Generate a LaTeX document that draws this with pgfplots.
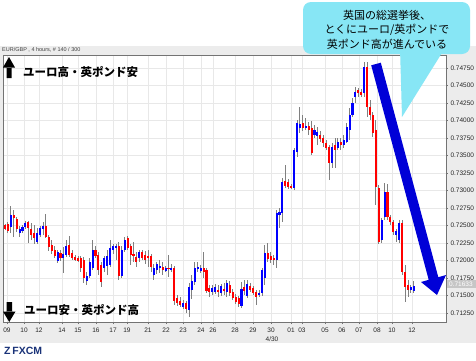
\documentclass[border=0pt]{standalone}
\usepackage{pgfplots}
\pgfplotsset{compat=1.18}
\usepackage{pgfplotstable}
\usepackage{fontspec}
\setmainfont{Liberation Sans}
\newfontfamily\jp{Noto Sans CJK JP}
\definecolor{upc}{RGB}{0,0,255}
\definecolor{dnc}{RGB}{255,0,0}
\definecolor{wick}{RGB}{128,128,128}
\definecolor{callout}{RGB}{135,230,245}
\definecolor{arrowblue}{RGB}{0,0,215}
\definecolor{fxblue}{RGB}{25,50,120}

\pgfplotstableread{
i o h l c
0 0.72507 0.72521 0.72436 0.72450
1 0.72521 0.72550 0.72393 0.72421
2 0.72479 0.72779 0.72393 0.72650
3 0.72650 0.72721 0.72336 0.72607
4 0.72593 0.72621 0.72407 0.72450
5 0.72393 0.72493 0.72336 0.72450
6 0.72421 0.72507 0.72393 0.72479
7 0.72479 0.72564 0.72450 0.72536
8 0.72550 0.72564 0.72250 0.72464
9 0.72450 0.72536 0.72293 0.72364
10 0.72393 0.72507 0.72236 0.72321
11 0.72264 0.72464 0.72236 0.72393
12 0.72364 0.72493 0.72336 0.72464
13 0.72450 0.72550 0.72364 0.72493
14 0.72493 0.72664 0.72321 0.72336
15 0.72336 0.72364 0.72136 0.72193
16 0.72221 0.72293 0.72093 0.72136
17 0.72150 0.72207 0.72036 0.72064
18 0.71993 0.72150 0.71964 0.72121
19 0.72107 0.72150 0.71993 0.72036
20 0.72036 0.72193 0.71821 0.72093
21 0.72079 0.72293 0.72050 0.72207
22 0.72221 0.72350 0.72050 0.72079
23 0.72107 0.72150 0.72007 0.72036
24 0.72050 0.72079 0.71993 0.72007
25 0.72036 0.72064 0.71979 0.71993
26 0.72036 0.72064 0.71836 0.71893
27 0.72007 0.72050 0.71679 0.71750
28 0.71707 0.71836 0.71650 0.71779
29 0.71779 0.72036 0.71750 0.71979
30 0.71893 0.72293 0.71864 0.72150
31 0.72150 0.72207 0.72036 0.72064
32 0.72079 0.72121 0.71793 0.71864
33 0.71936 0.71979 0.71621 0.71693
34 0.71893 0.72064 0.71836 0.72036
35 0.71921 0.72150 0.71793 0.72064
36 0.71936 0.72293 0.71907 0.72179
37 0.72150 0.72236 0.72093 0.72207
38 0.72179 0.72236 0.72007 0.72207
39 0.72207 0.72264 0.71721 0.71779
40 0.71779 0.72207 0.71750 0.72150
41 0.72150 0.72336 0.72121 0.72293
42 0.72321 0.72350 0.72150 0.72179
43 0.72207 0.72236 0.71936 0.72079
44 0.72093 0.72264 0.71979 0.72064
45 0.72050 0.72121 0.71907 0.71979
46 0.72036 0.72150 0.71979 0.72121
47 0.72121 0.72150 0.72007 0.72036
48 0.72079 0.72136 0.71950 0.72007
49 0.72064 0.72150 0.71907 0.72036
50 0.72064 0.72093 0.71836 0.71907
51 0.71793 0.71950 0.71721 0.71893
52 0.71864 0.71979 0.71807 0.71950
53 0.71893 0.72007 0.71821 0.71921
54 0.71907 0.71979 0.71793 0.71864
55 0.71850 0.71921 0.71836 0.71893
56 0.71893 0.72079 0.71764 0.71879
57 0.71864 0.71950 0.71836 0.71893
58 0.71893 0.71921 0.71364 0.71421
59 0.71464 0.71507 0.71350 0.71393
60 0.71421 0.71479 0.71336 0.71364
61 0.71336 0.71436 0.71307 0.71393
62 0.71393 0.71421 0.71250 0.71307
63 0.71293 0.71679 0.71193 0.71621
64 0.71579 0.71793 0.71450 0.71707
65 0.71693 0.71979 0.71650 0.71893
66 0.71893 0.71979 0.71836 0.71907
67 0.71850 0.71936 0.71821 0.71893
68 0.71893 0.72121 0.71750 0.71836
69 0.71864 0.71893 0.71536 0.71564
70 0.71607 0.71650 0.71479 0.71550
71 0.71550 0.71650 0.71507 0.71607
72 0.71550 0.71664 0.71521 0.71621
73 0.71579 0.71650 0.71479 0.71564
74 0.71536 0.71664 0.71493 0.71636
75 0.71593 0.71679 0.71507 0.71579
76 0.71550 0.71721 0.71479 0.71679
77 0.71650 0.71707 0.71493 0.71536
78 0.71550 0.71593 0.71436 0.71464
79 0.71479 0.71521 0.71379 0.71407
80 0.71464 0.71493 0.71336 0.71379
81 0.71350 0.71693 0.71321 0.71593
82 0.71621 0.71721 0.71507 0.71564
83 0.71493 0.71721 0.71464 0.71664
84 0.71636 0.71679 0.71550 0.71579
85 0.71607 0.71636 0.71507 0.71536
86 0.71550 0.71579 0.71364 0.71479
87 0.71507 0.71579 0.71479 0.71536
88 0.71536 0.71893 0.71493 0.71864
89 0.71750 0.72221 0.71650 0.72107
90 0.72107 0.72250 0.71979 0.72021
91 0.72064 0.72121 0.71964 0.72007
92 0.72036 0.72079 0.71936 0.72007
93 0.72007 0.72721 0.71893 0.72679
94 0.72650 0.72750 0.72464 0.72693
95 0.72679 0.73179 0.72550 0.73121
96 0.73136 0.73364 0.73036 0.73064
97 0.73121 0.73164 0.73021 0.73050
98 0.73064 0.73093 0.73021 0.73050
99 0.73036 0.73607 0.73007 0.73579
100 0.73550 0.74007 0.73479 0.73964
101 0.73893 0.74193 0.73821 0.73950
102 0.73964 0.74079 0.73850 0.73893
103 0.73893 0.74036 0.73864 0.73921
104 0.73921 0.73979 0.73793 0.73864
105 0.73893 0.73993 0.73507 0.73536
106 0.73793 0.73936 0.73750 0.73864
107 0.73779 0.73907 0.73650 0.73836
108 0.73793 0.73850 0.73693 0.73736
109 0.73750 0.73793 0.73621 0.73679
110 0.73679 0.73721 0.73579 0.73607
111 0.73621 0.73650 0.73150 0.73393
112 0.73393 0.73679 0.73321 0.73621
113 0.73650 0.73750 0.73321 0.73579
114 0.73607 0.73750 0.73579 0.73693
115 0.73693 0.73750 0.73579 0.73650
116 0.73650 0.73793 0.73607 0.73721
117 0.73693 0.73964 0.73679 0.73907
118 0.73864 0.74179 0.73721 0.74079
119 0.74079 0.74321 0.74050 0.74250
120 0.74336 0.74479 0.74250 0.74407
121 0.74436 0.74464 0.74336 0.74393
122 0.74407 0.74450 0.74336 0.74364
123 0.74393 0.74836 0.74336 0.74764
124 0.74764 0.74836 0.74050 0.74193
125 0.74193 0.74293 0.74007 0.74079
126 0.74079 0.74121 0.73764 0.73821
127 0.73864 0.74007 0.72793 0.73050
128 0.73036 0.73079 0.72236 0.72264
129 0.72293 0.72607 0.72250 0.72579
130 0.72621 0.73107 0.72579 0.72979
131 0.72979 0.73093 0.72579 0.72621
132 0.72621 0.72650 0.72507 0.72550
133 0.72550 0.72579 0.72364 0.72407
134 0.72364 0.72450 0.72264 0.72421
135 0.72293 0.72579 0.72250 0.72536
136 0.72536 0.72579 0.71793 0.71836
137 0.71836 0.71936 0.71407 0.71621
138 0.71650 0.71721 0.71479 0.71579
139 0.71579 0.71650 0.71536 0.71621
140 0.71564 0.71707 0.71536 0.71636
}\candles

\begin{document}
\begin{tikzpicture}[x=1pt,y=1pt]
\useasboundingbox (0,0) rectangle (476,360);
\fill[white] (0,0) rectangle (476,360);
\fill[gray!15] (0,17) rectangle (476,314);
\node[anchor=west, inner sep=0pt, font=\fontsize{5.5}{6}\selectfont, text=black!75] at (2,310.5) {EUR/GBP , 4 hours, \# 140 / 300};
\begin{axis}[
  at={(3pt,38pt)}, anchor=south west,
  scale only axis, width=443pt, height=267pt,
  xmin=-0.685, xmax=151.03, ymin=0.711214, ymax=0.749357,
  axis background/.style={fill=white},
  axis line style={black!55, line width=0.8pt},
  grid=major, grid style={gray!18, line width=0.8pt},
  xtick={0.68,6.51,11.64,19.52,25,31.16,36.99,41.78,48.97,55.14,60.96,67.12,71.23,78.77,84.93,91.1,97.95,101.71,109.59,115.41,121.23,127.4,132.53,139.38},
  xticklabels={09,10,12,14,15,16,17,19,21,22,23,24,26,28,29,30,01,03,05,06,07,08,10,12},
  ytick={0.7125,0.715,0.7175,0.72,0.7225,0.725,0.7275,0.73,0.7325,0.735,0.7375,0.74,0.7425,0.745,0.7475},
  yticklabel pos=right, ytick pos=right, xtick pos=bottom,
  /pgf/number format/assume math mode=true,
  yticklabel={\pgfmathprintnumber[fixed,fixed zerofill,precision=5]{\tick}},
  yticklabel style={font=\fontsize{6.5}{7}\selectfont, text=black!85, xshift=-1pt},
  xticklabel style={font=\fontsize{6.5}{7}\selectfont, text=black!85},
  tick style={black!55}, major tick length=2pt, tick align=outside,
]
\addplot[draw=none, forget plot, error bars/.cd, y dir=both, y explicit, error mark=none,
  error bar style={draw=wick, line width=0.9pt}]
  table[x=i, y expr={(\thisrow{h}+\thisrow{l})/2}, y error expr={(\thisrow{h}-\thisrow{l})/2}] {\candles};
\addplot[draw=none, forget plot, error bars/.cd, y dir=both, y explicit, error mark=none,
  error bar style={draw=upc, line width=2.1pt}]
  table[x=i, y expr={\thisrow{c}>=\thisrow{o} ? (\thisrow{o}+\thisrow{c})/2 : nan}, y error expr={abs(\thisrow{c}-\thisrow{o})/2+0.000015}] {\candles};
\addplot[draw=none, forget plot, error bars/.cd, y dir=both, y explicit, error mark=none,
  error bar style={draw=dnc, line width=2.1pt}]
  table[x=i, y expr={\thisrow{c}<\thisrow{o} ? (\thisrow{o}+\thisrow{c})/2 : nan}, y error expr={abs(\thisrow{c}-\thisrow{o})/2+0.000015}] {\candles};
\end{axis}
% extra date label
\node[font=\fontsize{6.5}{7}\selectfont, text=black!85] at (272,21) {4/30};
% current price box
\fill[gray!45] (447,72) rectangle (476,80.5);
\node[font=\fontsize{6.5}{7}\selectfont, text=white, anchor=west, inner sep=0pt] at (449,76.2) {0.71633};
% left annotations
\fill[black] (6.5,282) rectangle (11.5,293) (3,292.5) -- (15,292.5) -- (9,303) -- cycle;
\node[anchor=west, inner sep=0pt, font=\jp\bfseries\fontsize{11.5}{12}\selectfont] at (23,288) {ユーロ高・英ポンド安};
\fill[black] (6.5,58) rectangle (12,48) (3,48.5) -- (15.5,48.5) -- (9.25,38) -- cycle;
\node[anchor=west, inner sep=0pt, font=\jp\bfseries\fontsize{11.5}{12}\selectfont] at (24,50) {ユーロ安・英ポンド高};
% callout
\fill[callout, rounded corners=8pt] (303,306) rectangle (470,358);
\fill[callout] (400,312) -- (445,312) -- (402,243) -- cycle;
\node[align=center, font=\jp\fontsize{11}{14.5}\selectfont] at (387,330.5) {英国の総選挙後、\\とくにユーロ/英ポンドで\\英ポンド高が進んでいる};
% big arrow
\fill[arrowblue] (371.2,294.7) -- (380.8,297.3) -- (438.3,82.8) -- (446,85) -- (437,65) -- (421,78) -- (428.7,80.2) -- cycle;
% logo
\node[anchor=west, inner sep=0pt, font=\bfseries\fontsize{10.5}{11}\selectfont, text=fxblue] at (4,9) {Z\,FXCM};
\end{tikzpicture}
\end{document}
